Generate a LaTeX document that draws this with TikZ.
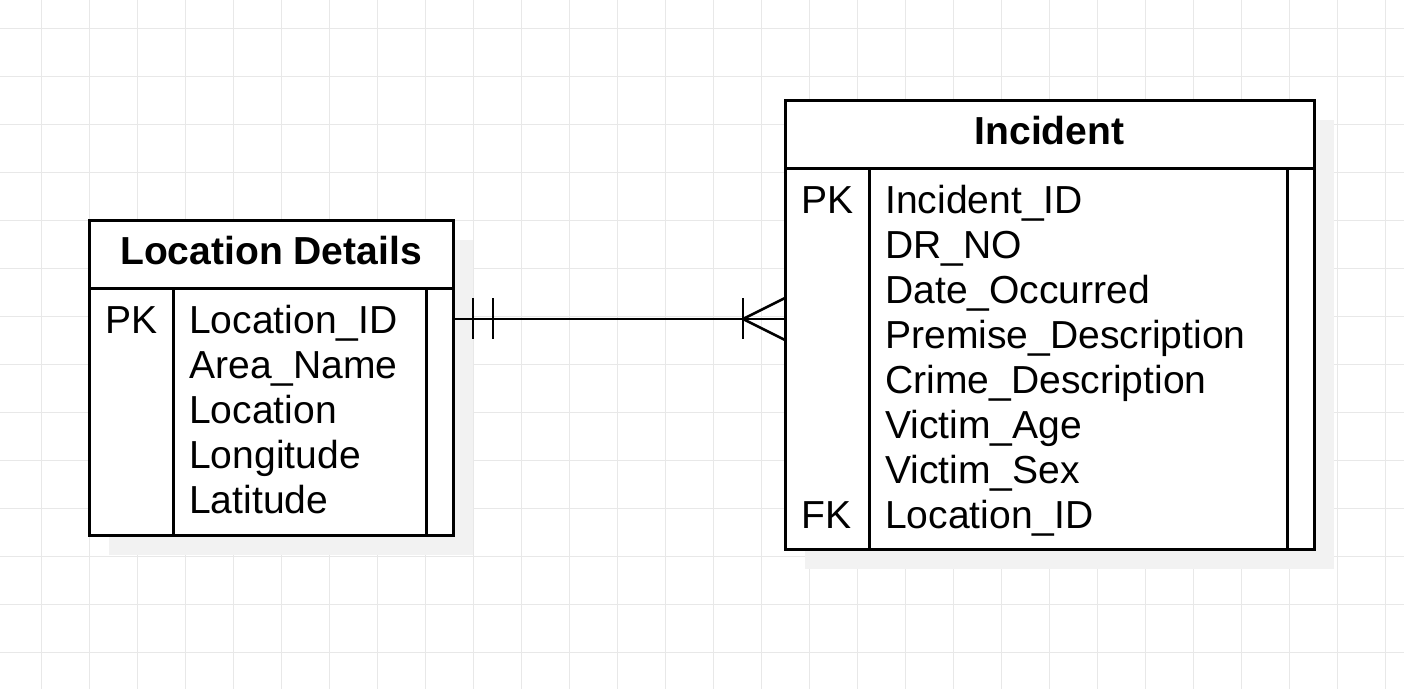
\documentclass[tikz,border=0pt]{standalone}
\usepackage{fontspec}
\setmainfont{Liberation Sans}
\usetikzlibrary{calc}
\definecolor{gridc}{RGB}{232,232,232}
\definecolor{shadowgray}{RGB}{242,242,242}
\begin{document}
\begin{tikzpicture}[x=0.75pt,y=-0.75pt,
  tbl/.style={draw=black,line width=2.25pt,fill=white,anchor=north west,inner sep=0pt,outer sep=0pt},
  shad/.style={fill=shadowgray,draw=none},
  sep/.style={draw=black,line width=2.25pt},
  fld/.style={anchor=base west,inner sep=0pt,font=\fontsize{29.3}{34}\selectfont},
  hdr/.style={anchor=base,inner sep=0pt,font=\fontsize{29.3}{34}\selectfont\bfseries},
  rel/.style={draw=black,line width=2pt},
  gridline/.style={draw=gridc,line width=0.75pt}]
\useasboundingbox (0,0) rectangle (1404,689);
\fill[white] (0,0) rectangle (1404,689);
% grid
\foreach \x in {41,89,...,1404} \draw[gridline] (\x,0) -- (\x,689);
\foreach \y in {28,76,...,689} \draw[gridline] (0,\y) -- (1404,\y);
% shadows
\fill[shad] (109,240) rectangle (473,555);
\fill[shad] (805,120) rectangle (1334,569);
% Location Details table
\node[tbl,minimum width=273pt,minimum height=236.25pt] (loc) at (89,220) {};
\draw[sep] (89,288) -- (453,288);
\draw[sep] (173,288) -- (173,535);
\draw[sep] (426,288) -- (426,535);
\node[hdr] (loch) at (271,264) {Location Details};
\node[fld] (locpk) at (105,333) {PK};
\node[fld] (locf1) at (189,333) {Location\_ID};
\node[fld] (locf2) at (189,378) {Area\_Name};
\node[fld] (locf3) at (189,423) {Location};
\node[fld] (locf4) at (189,468) {Longitude};
\node[fld] (locf5) at (189,513) {Latitude};
% Incident table
\node[tbl,minimum width=396.75pt,minimum height=336.75pt] (inc) at (785,100) {};
\draw[sep] (785,168) -- (1314,168);
\draw[sep] (869,168) -- (869,549);
\draw[sep] (1287,168) -- (1287,549);
\node[hdr] (inch) at (1049.5,144) {Incident};
\node[fld] (incpk) at (801,213) {PK};
\node[fld] (incf1) at (885,213) {Incident\_ID};
\node[fld] (incf2) at (885,258) {DR\_NO};
\node[fld] (incf3) at (885,303) {Date\_Occurred};
\node[fld] (incf4) at (885,348) {Premise\_Description};
\node[fld] (incf5) at (885,393) {Crime\_Description};
\node[fld] (incf6) at (885,438) {Victim\_Age};
\node[fld] (incf7) at (885,483) {Victim\_Sex};
\node[fld] (incfk) at (801,528) {FK};
\node[fld] (incf8) at (885,528) {Location\_ID};
% relationship
\coordinate (le) at ($(loc.north east)+(0,99)$);
\coordinate (ie) at ($(inc.north west)+(0,219)$);
\draw[rel] (le) -- (ie);
\draw[rel] ($(le)+(20,-21)$) -- ($(le)+(20,20)$);
\draw[rel] ($(le)+(40,-21)$) -- ($(le)+(40,20)$);
\draw[rel] ($(ie)+(-42,0)$) -- ($(ie)+(0,-21)$);
\draw[rel] ($(ie)+(-42,0)$) -- ($(ie)+(0,21)$);
\draw[rel] ($(ie)+(-42,-21)$) -- ($(ie)+(-42,20)$);
\end{tikzpicture}
\end{document}
